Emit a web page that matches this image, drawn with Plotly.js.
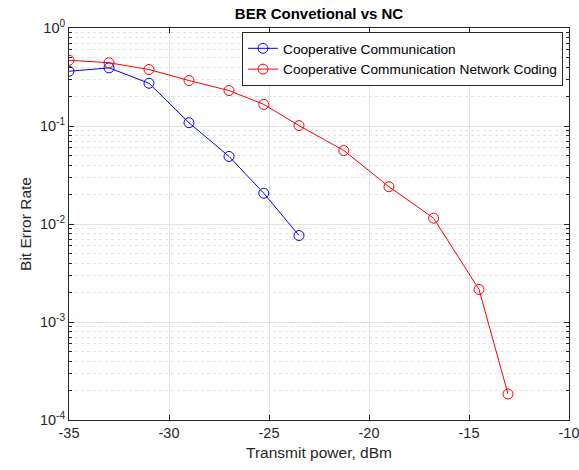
<!DOCTYPE html>
<html>
<head>
<meta charset="utf-8">
<script src="https://cdn.plot.ly/plotly-3.0.1.min.js"></script>
<style>html,body{margin:0;padding:0;background:#fff}#chart{width:579px;height:470px}</style>
</head>
<body>
<div id="chart"></div>
<script>
const seriesNames = ["Cooperative Communication", "Cooperative Communication Network Coding"];
const powerCC = [-35, -33, -31, -29, -27, -25.26, -23.5];
const berCC = [0.362, 0.392, 0.273, 0.108, 0.0489, 0.0206, 0.00763];
const powerNC = [-35, -33, -31, -29, -27, -25.26, -23.5, -21.26, -19.0, -16.77, -14.5, -13.05];
const berNC = [0.469, 0.442, 0.377, 0.291, 0.230, 0.166, 0.101, 0.0562, 0.0240, 0.01146, 0.00215, 0.000184];
const yTickVals = [1e-4, 1e-3, 1e-2, 1e-1, 1];
const yTickText = ["10<sup>-4</sup>", "10<sup>-3</sup>", "10<sup>-2</sup>", "10<sup>-1</sup>", "10<sup>0</sup>"];
const xTickVals = [-35, -30, -25, -20, -15, -10];

const minorVals = [];
for (let e = -4; e < 0; e++) for (let m = 2; m <= 9; m++) minorVals.push(m * Math.pow(10, e));

const axisColor = '#262626';
const family = 'Liberation Sans, Arial, sans-serif';
const tickFont = {family: family, size: 14.5, color: axisColor};

const traces = [
  {x: powerCC, y: berCC, name: seriesNames[0], type: 'scatter', mode: 'lines+markers',
   line: {color: '#0000ff', width: 1}, marker: {symbol: 'circle-open', size: 10, color: '#0000ff', line: {width: 1}}},
  {x: powerNC, y: berNC, name: seriesNames[1], type: 'scatter', mode: 'lines+markers',
   line: {color: '#ff0000', width: 1}, marker: {symbol: 'circle-open', size: 10, color: '#ff0000', line: {width: 1}}}
];

const layout = {
  width: 579, height: 470,
  margin: {l: 69, r: 10, t: 28, b: 50},
  paper_bgcolor: '#fff', plot_bgcolor: '#fff',
  font: tickFont,
  title: {text: '<b>BER Convetional vs NC</b>', font: {family: family, size: 15, color: '#000'}, x: 0.5, xanchor: 'center', xref: 'paper', y: 0.97, yanchor: 'middle'},
  showlegend: true,
  legend: {x: 0.988, y: 0.99, xanchor: 'right', yanchor: 'top', bgcolor: '#fff', bordercolor: axisColor, borderwidth: 1,
    font: {family: family, size: 13.7, color: '#000'}, tracegroupgap: 0, itemwidth: 30},
  xaxis: {
    range: [-35, -10], tickvals: xTickVals, ticktext: xTickVals.map(String),
    ticks: 'inside', ticklen: 5, tickcolor: axisColor, showline: true, linecolor: axisColor, linewidth: 1, mirror: 'allticks',
    showgrid: true, gridcolor: '#e3e3e3', gridwidth: 1, zeroline: false, ticklabeloverflow: 'allow',
    title: {text: 'Transmit power, dBm', font: {family: family, size: 15.5, color: axisColor}, standoff: 6},
    tickfont: tickFont
  },
  yaxis: {
    type: 'log', range: [-4, 0], tickvals: yTickVals, ticktext: yTickText,
    ticks: 'inside', ticklen: 5, tickcolor: axisColor, showline: true, linecolor: axisColor, linewidth: 1, mirror: 'allticks',
    showgrid: true, gridcolor: '#e3e3e3', gridwidth: 1, zeroline: false,
    minor: {tickmode: 'array', tickvals: minorVals, ticks: 'inside', ticklen: 3, tickcolor: axisColor, showgrid: true, gridcolor: '#e4e4e4', griddash: 'dot', gridwidth: 1},
    title: {text: 'Bit Error Rate', font: {family: family, size: 15.5, color: axisColor}, standoff: 4},
    tickfont: tickFont
  }
};

Plotly.newPlot('chart', traces, layout, {displayModeBar: false, staticPlot: true});
</script>
</body>
</html>
